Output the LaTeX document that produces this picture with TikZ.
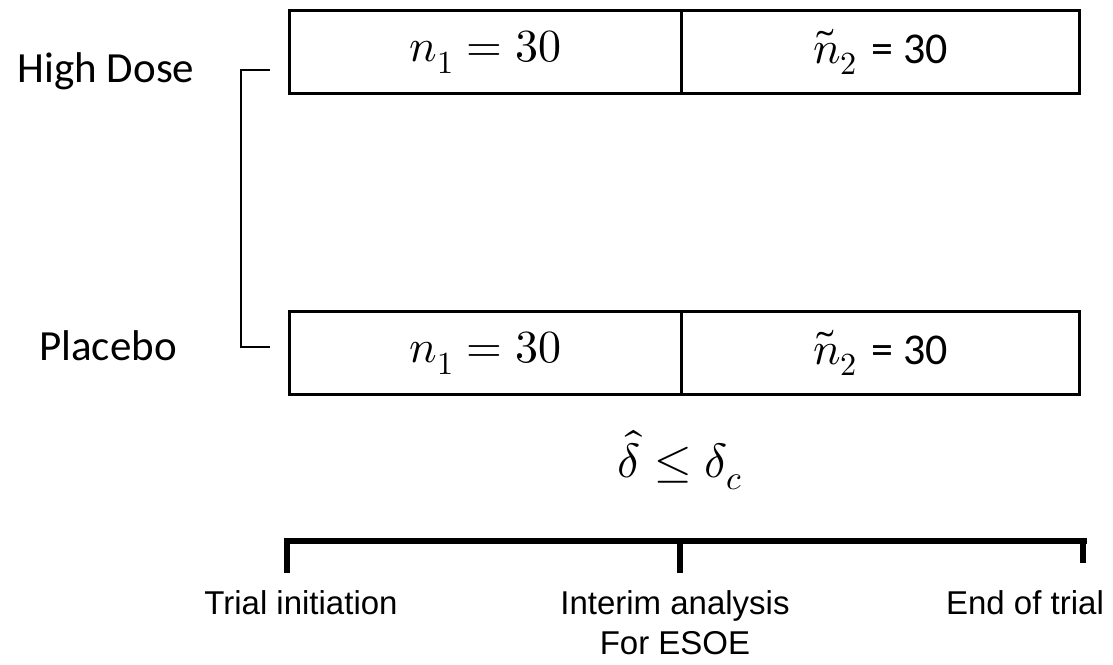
\documentclass[tikz,border=0pt]{standalone}
\usepackage{fontspec}
\usepackage{unicode-math}
\newfontfamily\calib{Carlito}
\newfontfamily\arial{Liberation Sans}
\begin{document}
\begin{tikzpicture}[x=1pt,y=-1pt,
  armbox/.style={draw=black,line width=3pt,minimum width=392pt,minimum height=83pt,inner sep=0pt,anchor=north west,font=\fontsize{46}{52}\selectfont},
  armlabel/.style={font=\calib\fontsize{43}{50}\selectfont},
  tlabel/.style={font=\arial\fontsize{33}{40}\selectfont,align=center,anchor=north},
  tline/.style={line width=6pt},
  brk/.style={line width=1.6pt}]
\useasboundingbox (0,0) rectangle (1113,664);
\node[armbox] (h1) at (288,9) {$n_1 = 30$};
\node[armbox,minimum width=398pt] (h2) at (680,9) {$\tilde{n}_2$ {\calib\fontsize{44}{50}\selectfont = 30}};
\node[armbox] (p1) at (288,310) {$n_1 = 30$};
\node[armbox,minimum width=398pt] (p2) at (680,310) {$\tilde{n}_2$ {\calib\fontsize{44}{50}\selectfont = 30}};
\node[armlabel] (hd) at (106,71) {High Dose};
\node[armlabel] (pl) at (108,346) {Placebo};
\coordinate (bt) at (270,70);
\coordinate (bb) at (270,347);
\draw[brk] (bt) -- ++(-29,0) |- (bb);
\node[font=\fontsize{48}{54}\selectfont] (crit) at (680,460) {$\hat{\delta} \le \delta_c$};
\coordinate (t0) at (284,541);
\coordinate (t2) at (1087,541);
\draw[tline] (t0) -- (t2);
\coordinate (k0) at (287,541);
\coordinate (k1) at (680,541);
\coordinate (k2) at (1083,541);
\draw[tline] (k0) -- ++(0,32);
\draw[tline] (k1) -- ++(0,32);
\draw[tline] (k2) -- ++(0,22);
\node[tlabel,inner sep=0pt] (l0) at (301,590) {Trial initiation};
\node[tlabel,inner sep=0pt] (l1) at (675,590) {Interim analysis\\For ESOE};
\node[tlabel,inner sep=0pt] (l2) at (1025,590) {End of trial};
\end{tikzpicture}
\end{document}
